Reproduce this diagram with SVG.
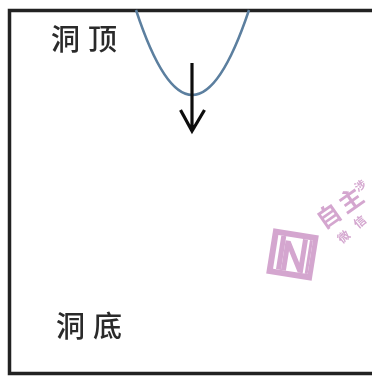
<svg xmlns="http://www.w3.org/2000/svg" width="372" height="376" viewBox="0 0 372 376">
<defs><filter id="soft" x="-5%" y="-5%" width="110%" height="110%"><feGaussianBlur stdDeviation="0.6"/></filter></defs>
<style>
.t{font-family:"Noto Sans CJK SC","Noto Sans",sans-serif;font-size:29px;font-weight:500;fill:#2c2c2c;letter-spacing:8px}
.w{font-family:"Noto Sans CJK SC","Noto Sans",sans-serif;fill:#d4a6cf;font-weight:700}
</style>
<rect width="372" height="376" fill="#fff"/>
<g filter="url(#soft)">
<g id="frame"><path d="M373 10.500H9.500V373.500H373" fill="none" stroke="#222" stroke-width="3.500"/></g>
<g id="labels">
<text class="t" x="51" y="50">洞顶</text>
<text class="t" x="56" y="337">洞底</text>
</g>
<g id="connectors">
<path d="M136 10Q192 180 249 10" fill="none" stroke="#5b7f9f" stroke-width="2.500"/>
<path d="M192 63V131M180.500 110L192 131L204.500 110" fill="none" stroke="#111" stroke-width="3.200"/>
</g>
<g id="watermark">
<g transform="translate(292.500 254.500) rotate(9)">
<rect x="-23" y="-23" width="46" height="46" fill="#d4a6cf"/>
<rect x="-17" y="-17" width="35" height="34" fill="#fff"/>
<path d="M-14-17H-9V17H-14ZM15-17H18V17H15Z" fill="#d4a6cf"/>
<path d="M-9-13H-4L8 7V-17H13V17H8L-4-3V17H-9Z" fill="#d4a6cf"/>
</g>
<text class="w" font-size="24" transform="translate(324 230) rotate(-35)">自</text>
<text class="w" font-size="24" transform="translate(346 214) rotate(-35)">主</text>
<text class="w" font-size="11" transform="translate(358 192) rotate(-35)">涉</text>
<text class="w" font-size="12" font-weight="400" transform="translate(342 244) rotate(-40)">微</text>
<text class="w" font-size="12" font-weight="400" transform="translate(358 229) rotate(-40)">信</text>
</g>
</g>
</svg>
